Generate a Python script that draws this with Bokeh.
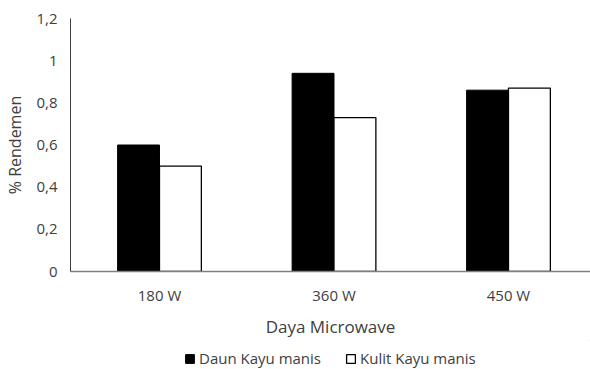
from bokeh.plotting import figure
from bokeh.layouts import column
from bokeh.models import FixedTicker, Legend, LegendItem, Range1d
from bokeh.embed import file_html
from bokeh.resources import INLINE

categories = ["180 W", "360 W", "450 W"]
daun = [0.60, 0.94, 0.86]
kulit = [0.50, 0.73, 0.87]
y_ticks = [0, 0.2, 0.4, 0.6, 0.8, 1.0, 1.2]
y_tick_labels = ["0", "0,2", "0,4", "0,6", "0,8", "1", "1,2"]
series_names = ["Daun Kayu manis", "Kulit Kayu manis"]

FONT = "Open Sans"
TXT = "#404040"
xpos = list(range(len(categories)))

p = figure(width=590, height=340, output_backend="svg", toolbar_location=None,
           x_range=Range1d(-0.51, 2.47), y_range=Range1d(0, 1.2),
           min_border_left=70, min_border_top=18, min_border_right=0,
           min_border_bottom=69)
p.outline_line_color = None
p.xgrid.grid_line_color = None
p.ygrid.grid_line_color = None

bw = 0.24
style1 = dict(fill_color="black", line_color="black", line_width=1)
style2 = dict(fill_color="white", line_color="black", line_width=1.3)
p.vbar(x=[x - bw / 2 for x in xpos], top=daun, width=bw, bottom=0, **style1)
p.vbar(x=[x + bw / 2 for x in xpos], top=kulit, width=bw, bottom=0, **style2)

# x axis
xa = p.xaxis[0]
xa.ticker = FixedTicker(ticks=xpos)
xa.major_label_overrides = {i: c for i, c in zip(xpos, categories)}
xa.major_tick_line_color = None
xa.minor_tick_line_color = None
xa.major_tick_out = 0
xa.major_tick_in = 0
xa.axis_line_color = "#7f7f7f"
xa.axis_line_width = 1.3
xa.major_label_standoff = 13
xa.major_label_text_font = FONT
xa.major_label_text_font_size = "15px"
xa.major_label_text_color = TXT
xa.axis_label = "Daya Microwave"
xa.axis_label_text_font = FONT
xa.axis_label_text_font_size = "17px"
xa.axis_label_text_font_style = "normal"
xa.axis_label_text_color = TXT
xa.axis_label_standoff = 7

# y axis
ya = p.yaxis[0]
ya.ticker = FixedTicker(ticks=y_ticks)
ya.major_label_overrides = {t: l for t, l in zip(y_ticks, y_tick_labels)}
ya.major_tick_line_color = None
ya.minor_tick_line_color = None
ya.major_tick_out = 0
ya.major_tick_in = 0
ya.axis_line_color = "#404040"
ya.axis_line_width = 1
ya.major_label_standoff = 13
ya.major_label_text_font = FONT
ya.major_label_text_font_size = "15px"
ya.major_label_text_color = TXT
ya.axis_label = "% Rendemen"
ya.axis_label_text_font = FONT
ya.axis_label_text_font_size = "16px"
ya.axis_label_text_font_style = "normal"
ya.axis_label_text_color = TXT
ya.axis_label_standoff = 7

# legend strip below the chart (its frame is aligned with the chart's frame)
lg = figure(width=590, height=29, output_backend="svg", toolbar_location=None,
            x_range=Range1d(0, 1), y_range=Range1d(0, 1),
            x_axis_location=None, y_axis_location=None,
            min_border=0)
lg.outline_line_color = None
lg.xgrid.grid_line_color = None
lg.ygrid.grid_line_color = None
# placeholder renderers (outside the visible range) that only carry the legend styles
d1 = lg.vbar(x=[5], top=[5], bottom=[4], width=0.1, **style1)
d2 = lg.vbar(x=[5], top=[5], bottom=[4], width=0.1, **style2)
legend = Legend(items=[LegendItem(label=series_names[0], renderers=[d1]),
                       LegendItem(label=series_names[1], renderers=[d2])],
                orientation="horizontal", location=(114, 1),
                glyph_width=11, glyph_height=11, label_standoff=4, spacing=24,
                padding=0, margin=0, border_line_color=None,
                background_fill_alpha=0,
                label_text_font=FONT, label_text_font_size="15px",
                label_text_color=TXT)
lg.add_layout(legend, "center")

layout = column(p, lg, spacing=0)
open("out.html", "w").write(file_html(layout, INLINE))
